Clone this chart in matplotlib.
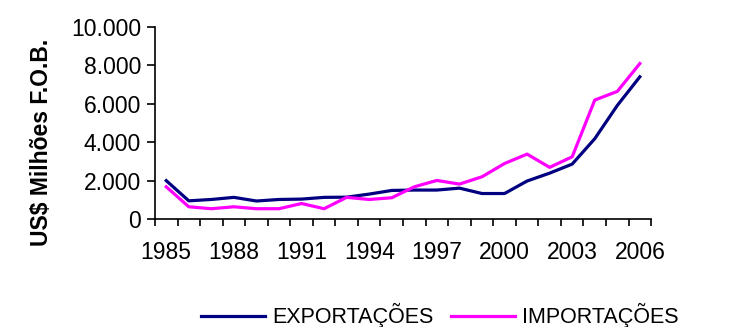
import numpy as np
import matplotlib.pyplot as plt

plt.rcParams['font.family'] = ['Liberation Sans', 'DejaVu Sans']

# Data
years = list(range(1985, 2007))
exportacoes = [2000, 950, 1020, 1130, 940, 1020, 1040, 1130, 1140, 1300, 1490,
               1510, 1510, 1610, 1330, 1330, 1980, 2390, 2860, 4180, 5910, 7400]
importacoes = [1680, 640, 540, 640, 540, 540, 810, 540, 1130, 1020, 1110,
               1680, 2010, 1820, 2200, 2890, 3380, 2690, 3240, 6190, 6640, 8090]
y_ticks = [0, 2000, 4000, 6000, 8000, 10000]
y_labels = ['0', '2.000', '4.000', '6.000', '8.000', '10.000']
x_labels = [str(y) for y in years[::3]]

fig = plt.figure(figsize=(7.45, 3.27), dpi=100)
ax = fig.add_axes([0.208, 0.330, 0.666, 0.588])

x = np.arange(len(years))
l1, = ax.plot(x, exportacoes, color='#000080', lw=2.3, label='EXPORTAÇÕES')
l2, = ax.plot(x, importacoes, color='#FF00FF', lw=2.3, label='IMPORTAÇÕES')

ax.set_xlim(-0.5, len(years) - 0.5)
ax.set_ylim(0, 10000)

# ticks between categories, labels at category centres
ax.set_xticks(np.arange(len(years) + 1) - 0.5)
ax.set_xticklabels([])
ax.set_xticks(x[::3], minor=True)
ax.set_xticklabels(x_labels, minor=True, fontsize=16.5)
ax.tick_params(axis='x', which='major', length=5, width=1.2, direction='out')
ax.tick_params(axis='x', which='minor', length=0, pad=16)

ax.set_yticks(y_ticks)
ax.set_yticklabels(y_labels, fontsize=16.5)
ax.tick_params(axis='y', length=6, width=1.2, direction='out', pad=4)

for s in ['top', 'right']:
    ax.spines[s].set_visible(False)
for s in ['left', 'bottom']:
    ax.spines[s].set_linewidth(1.2)

ax.set_ylabel('US$ Milhões F.O.B.', fontsize=16.5, fontweight='bold', labelpad=10)
ax.yaxis.set_label_coords(-0.205, 0.4)

fig.legend(handles=[l1, l2], loc='center', bbox_to_anchor=(0.59, 0.035), ncol=2,
           frameon=False, fontsize=15.5, handlelength=3.0, handletextpad=0.3,
           columnspacing=0.8)

fig.savefig('out.png', dpi=100)
